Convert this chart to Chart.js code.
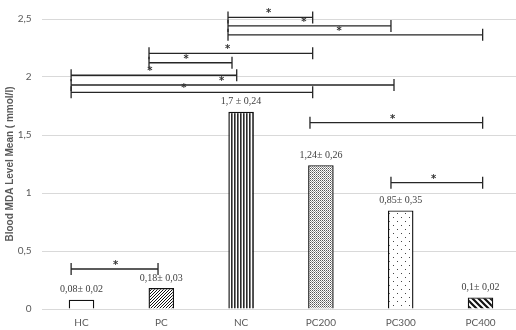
<!DOCTYPE html>
<html>
<head>
<meta charset="utf-8">
<script src="https://cdn.jsdelivr.net/npm/chart.js@4"></script>
<style>
html,body{margin:0;padding:0;background:#fff;overflow:hidden;width:516px;height:330px;}
canvas{display:block;}
</style>
</head>
<body>
<canvas id="c" width="521" height="330" style="width:521px;height:330px"></canvas>
<script>
const categories = ['HC', 'PC', 'NC', 'PC200', 'PC300', 'PC400'];
const meanValues = [0.08, 0.18, 1.7, 1.24, 0.85, 0.1];
const valueLabels = ['0,08\u00b1 0,02', '0,18\u00b1 0,03', '1,7 \u00b1 0,24', '1,24\u00b1 0,26', '0,85\u00b1 0,35', '0,1\u00b1 0,02'];
const yTickValues = [0, 0.5, 1, 1.5, 2, 2.5];
const yTickLabels = ['0', '0,5', '1', '1,5', '2', '2,5'];
// significance brackets (category-axis positions and value-axis level)
const bracketStart = [1.836, 1.836, 1.836, 0.846, 0.846, -0.13, -0.13, -0.13, 2.863, 3.878, -0.13];
const bracketEnd   = [2.897, 3.878, 5.027, 2.897, 1.886, 1.945, 3.916, 2.897, 5.027, 5.027, 0.959];
const bracketLevel = [2.514, 2.44, 2.364, 2.204, 2.123, 2.015, 1.931, 1.868, 1.606, 1.089, 0.345];
const starPos      = [2.346, 2.788, 3.227, 1.832, 1.31, 0.858, 1.757, 1.284, 3.9, 4.414, 0.429];

function makePattern(w, h, draw) {
  const c = document.createElement('canvas');
  c.width = w; c.height = h;
  const g = c.getContext('2d');
  g.fillStyle = '#fff'; g.fillRect(0, 0, w, h);
  draw(g);
  return document.getElementById('c').getContext('2d').createPattern(c, 'repeat');
}
const patHC = '#ffffff';
const patPC = makePattern(3, 3, g => {
  g.strokeStyle = '#111'; g.lineWidth = 1;
  g.beginPath();
  g.moveTo(0, 3); g.lineTo(3, 0);
  g.moveTo(-1, 1); g.lineTo(1, -1);
  g.moveTo(2, 4); g.lineTo(4, 2);
  g.stroke();
});
const patNC = makePattern(3, 3, g => { g.fillStyle = '#2a2a2a'; g.fillRect(0, 0, 1.6, 3); });
const patPC200 = makePattern(2, 2, g => {
  g.fillStyle = '#555'; g.fillRect(0, 0, 1, 1);
  g.fillStyle = '#9a9a9a'; g.fillRect(1, 1, 1, 1);
});
const patPC300 = makePattern(8, 8, g => {
  g.fillStyle = '#444'; g.fillRect(1, 1, 1, 1); g.fillRect(5, 5, 1, 1);
});
const patPC400 = makePattern(6, 6, g => {
  g.strokeStyle = '#111'; g.lineWidth = 2.2;
  g.beginPath();
  g.moveTo(0, 0); g.lineTo(6, 6);
  g.moveTo(-1, 5); g.lineTo(1, 7);
  g.moveTo(5, -1); g.lineTo(7, 1);
  g.stroke();
});

const overlay = {
  id: 'overlay',
  afterDatasetsDraw(chart) {
    const ctx = chart.ctx;
    const xs = chart.scales.x, ys = chart.scales.y;
    const meta = chart.getDatasetMeta(0);
    ctx.save();
    ctx.fillStyle = '#404040';
    ctx.font = '10px "Liberation Serif"';
    ctx.textAlign = 'center';
    ctx.textBaseline = 'middle';
    meta.data.forEach((bar, i) => {
      ctx.fillText(valueLabels[i], bar.x, bar.y - 10);
    });
    ctx.strokeStyle = '#262626';
    ctx.lineWidth = 1.3;
    for (let i = 0; i < bracketLevel.length; i++) {
      const x1 = xs.getPixelForValue(bracketStart[i]);
      const x2 = xs.getPixelForValue(bracketEnd[i]);
      const y = ys.getPixelForValue(bracketLevel[i]);
      ctx.beginPath();
      ctx.moveTo(x1, y); ctx.lineTo(x2, y);
      ctx.moveTo(x1, y - 6); ctx.lineTo(x1, y + 6);
      ctx.moveTo(x2, y - 6); ctx.lineTo(x2, y + 6);
      ctx.stroke();
      ctx.fillStyle = '#333';
      ctx.font = 'bold 10px "DejaVu Sans"';
      ctx.fillText('*', xs.getPixelForValue(starPos[i]), y - 3.5);
    }
    ctx.restore();
  }
};

new Chart(document.getElementById('c'), {
  type: 'bar',
  data: {
    labels: categories,
    datasets: [{
      data: meanValues,
      backgroundColor: [patHC, patPC, patNC, patPC200, patPC300, patPC400],
      borderColor: '#111',
      borderWidth: 1.4,
      barPercentage: 0.8,
      categoryPercentage: 0.4
    }]
  },
  options: {
    responsive: false,
    animation: false,
    layout: { padding: { top: 19, right: 0.6, bottom: 0, left: 0 } },
    plugins: { legend: { display: false }, tooltip: { enabled: false } },
    scales: {
      x: {
        grid: { display: false, drawTicks: false },
        border: { display: false },
        ticks: { color: '#595959', font: { family: 'Lato', size: 10 }, padding: 8 },
        afterFit(s) { s.height = 21; }
      },
      y: {
        min: 0, max: 2.5,
        afterBuildTicks(s) { s.ticks = yTickValues.map(v => ({ value: v })); },
        grid: { color: '#d9d9d9', drawTicks: false, lineWidth: 1 },
        border: { display: false },
        ticks: {
          color: '#595959', font: { family: 'Lato', size: 10 }, padding: 10,
          callback(v) { const k = yTickValues.indexOf(v); return k >= 0 ? yTickLabels[k] : ''; }
        },
        title: {
          display: true, text: 'Blood MDA Level Mean ( mmol/l)', color: '#595959',
          font: { family: 'Liberation Sans', size: 10, weight: 'bold' }, padding: { top: 4, bottom: 0 }
        },
        afterFit(s) { s.width = 41.6; }
      }
    }
  },
  plugins: [overlay]
});
</script>
</body>
</html>
